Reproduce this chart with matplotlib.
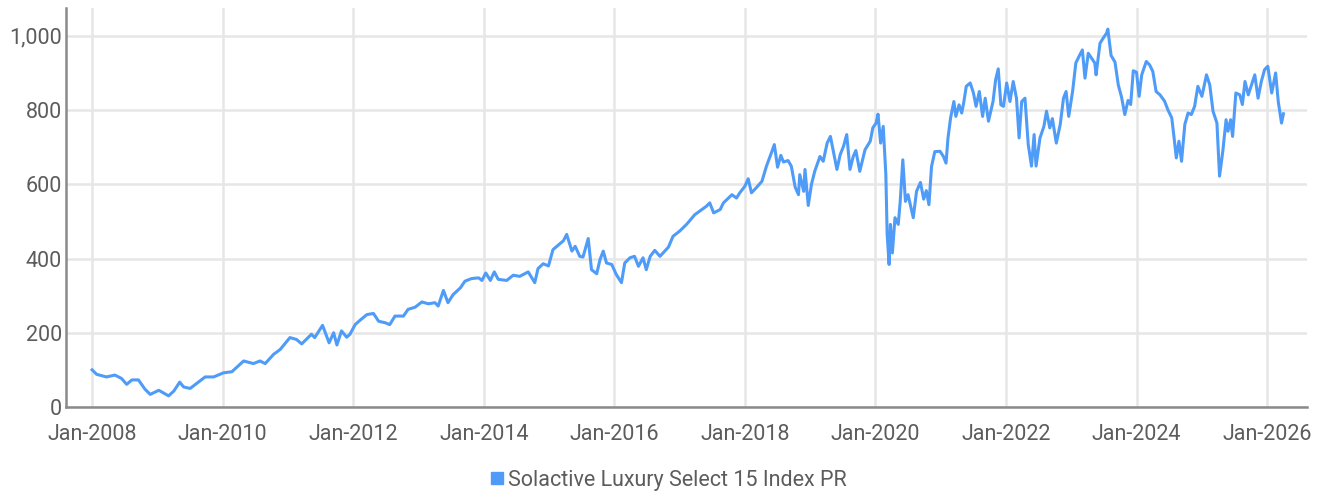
import matplotlib
matplotlib.use('Agg')
import matplotlib.pyplot as plt
import matplotlib.dates as mdates
from matplotlib.lines import Line2D
import pandas as pd

# index level (decimal year, value)
years = [2008.00, 2008.07, 2008.22, 2008.35, 2008.45, 2008.53, 2008.61, 2008.71, 2008.81, 2008.89,
         2009.02, 2009.17, 2009.25, 2009.34, 2009.40, 2009.50, 2009.65, 2009.73, 2009.86, 2010.01,
         2010.14, 2010.32, 2010.47, 2010.57, 2010.65, 2010.78, 2010.88, 2011.03, 2011.13, 2011.21,
         2011.36, 2011.41, 2011.53, 2011.63, 2011.70, 2011.75, 2011.82, 2011.90, 2011.95, 2012.03,
         2012.10, 2012.21, 2012.31, 2012.39, 2012.49, 2012.56, 2012.64, 2012.77, 2012.84, 2012.95,
         2013.05, 2013.15, 2013.25, 2013.30, 2013.38, 2013.45, 2013.53, 2013.64, 2013.71, 2013.81,
         2013.92, 2013.97, 2014.03, 2014.10, 2014.16, 2014.22, 2014.35, 2014.45, 2014.55, 2014.68,
         2014.78, 2014.83, 2014.91, 2014.99, 2015.06, 2015.14, 2015.22, 2015.27, 2015.35, 2015.40,
         2015.47, 2015.52, 2015.60, 2015.65, 2015.73, 2015.78, 2015.83, 2015.88, 2015.96, 2016.03,
         2016.11, 2016.16, 2016.24, 2016.31, 2016.37, 2016.44, 2016.49, 2016.55, 2016.62, 2016.70,
         2016.83, 2016.90, 2017.00, 2017.11, 2017.23, 2017.34, 2017.41, 2017.46, 2017.52, 2017.62,
         2017.67, 2017.80, 2017.87, 2017.92, 2018.00, 2018.05, 2018.10, 2018.18, 2018.26, 2018.33,
         2018.41, 2018.45, 2018.50, 2018.55, 2018.59, 2018.66, 2018.71, 2018.77, 2018.82, 2018.84,
         2018.90, 2018.92, 2018.97, 2019.02, 2019.07, 2019.15, 2019.20, 2019.26, 2019.31, 2019.36,
         2019.41, 2019.46, 2019.51, 2019.56, 2019.61, 2019.66, 2019.70, 2019.76, 2019.84, 2019.92,
         2019.96, 2020.01, 2020.04, 2020.08, 2020.12, 2020.16, 2020.18, 2020.21, 2020.23, 2020.26,
         2020.30, 2020.35, 2020.38, 2020.42, 2020.46, 2020.50, 2020.54, 2020.58, 2020.63, 2020.69,
         2020.74, 2020.78, 2020.82, 2020.86, 2020.91, 2020.99, 2021.04, 2021.08, 2021.11, 2021.15,
         2021.20, 2021.23, 2021.28, 2021.32, 2021.35, 2021.39, 2021.45, 2021.50, 2021.54, 2021.59,
         2021.64, 2021.68, 2021.73, 2021.80, 2021.84, 2021.88, 2021.92, 2021.96, 2022.01, 2022.06,
         2022.11, 2022.16, 2022.20, 2022.24, 2022.29, 2022.34, 2022.39, 2022.43, 2022.46, 2022.52,
         2022.58, 2022.62, 2022.67, 2022.71, 2022.77, 2022.83, 2022.88, 2022.92, 2022.96, 2023.02,
         2023.07, 2023.12, 2023.17, 2023.21, 2023.26, 2023.31, 2023.36, 2023.38, 2023.44, 2023.49,
         2023.54, 2023.56, 2023.61, 2023.67, 2023.72, 2023.77, 2023.82, 2023.87, 2023.91, 2023.95,
         2024.00, 2024.04, 2024.08, 2024.15, 2024.20, 2024.25, 2024.30, 2024.36, 2024.43, 2024.48,
         2024.54, 2024.57, 2024.61, 2024.65, 2024.69, 2024.74, 2024.79, 2024.84, 2024.89, 2024.94,
         2025.00, 2025.07, 2025.12, 2025.17, 2025.23, 2025.27, 2025.32, 2025.37, 2025.40, 2025.44,
         2025.47, 2025.52, 2025.58, 2025.62, 2025.66, 2025.71, 2025.76, 2025.81, 2025.86, 2025.91,
         2025.96, 2026.01, 2026.07, 2026.13, 2026.17, 2026.22, 2026.25]
values = [100, 88, 81, 86, 77, 61, 73, 73, 48, 34,
          45, 30, 43, 67, 54, 50, 70, 81, 81, 92,
          95, 124, 117, 124, 117, 142, 155, 187, 182, 170,
          196, 187, 220, 173, 200, 167, 205, 188, 196, 222,
          233, 249, 252, 231, 227, 222, 245, 245, 263, 269,
          283, 278, 281, 272, 314, 281, 303, 321, 339, 346,
          348, 341, 361, 341, 364, 344, 341, 355, 352, 364,
          335, 373, 386, 380, 424, 436, 448, 465, 420, 433,
          406, 404, 454, 370, 359, 397, 420, 388, 384, 357,
          335, 388, 402, 406, 379, 402, 370, 406, 422, 406,
          431, 460, 474, 493, 518, 532, 541, 550, 523, 532,
          550, 572, 563, 577, 595, 615, 577, 592, 608, 649,
          687, 707, 646, 678, 660, 664, 649, 592, 572, 626,
          581, 640, 543, 600, 635, 675, 662, 711, 729, 684,
          640, 680, 702, 734, 640, 675, 691, 635, 693, 716,
          752, 765, 789, 711, 756, 626, 465, 384, 492, 415,
          510, 492, 554, 666, 554, 572, 541, 510, 581, 605,
          560, 583, 545, 648, 688, 689, 675, 657, 725, 779,
          823, 783, 814, 792, 819, 864, 873, 846, 810, 850,
          783, 832, 770, 823, 882, 911, 814, 810, 873, 823,
          877, 832, 725, 823, 832, 707, 649, 734, 649, 725,
          756, 797, 752, 777, 711, 761, 832, 850, 783, 850,
          927, 945, 962, 886, 953, 940, 927, 895, 980, 994,
          1007, 1018, 947, 929, 868, 835, 788, 826, 815, 906,
          902, 837, 895, 931, 922, 904, 850, 841, 824, 801,
          779, 734, 671, 716, 662, 761, 792, 788, 810, 864,
          837, 895, 868, 797, 765, 622, 689, 774, 743, 774,
          729, 846, 841, 815, 877, 841, 868, 895, 832, 877,
          909, 918, 846, 900, 823, 765, 790]
series_name = 'Solactive Luxury Select 15 Index PR'
y_ticks = [0, 200, 400, 600, 800, 1000]

dates = [pd.Timestamp(int(y), 1, 1) + pd.Timedelta(days=(y - int(y)) * 365.25) for y in years]

plt.rcParams['font.family'] = ['Roboto', 'DejaVu Sans']
text_col = '#5c5c5c'
line_col = '#4f9cf8'
grid_col = '#e6e6e6'

fig = plt.figure(figsize=(13.24, 4.93), dpi=100)
ax = fig.add_axes([66/1324, 1 - 407/493, (1307-66)/1324, (407-8)/493])

ax.plot(dates, values, color=line_col, lw=2.2, solid_joinstyle='round', zorder=3)

ax.set_ylim(0, 1075)
ax.set_xlim(pd.Timestamp('2007-08-08'), pd.Timestamp('2026-08-12'))
ax.set_yticks(y_ticks)
ax.set_yticklabels([f'{v:,}' for v in y_ticks])
ax.xaxis.set_major_locator(mdates.YearLocator(2, month=1, day=1))
ax.xaxis.set_major_formatter(mdates.DateFormatter('%b-%Y'))

ax.grid(True, color=grid_col, lw=1.8, zorder=0)
ax.set_axisbelow(True)
for s in ['top', 'right']:
    ax.spines[s].set_visible(False)
for s in ['left', 'bottom']:
    ax.spines[s].set_color('#8a8a8a')
    ax.spines[s].set_linewidth(1.8)
ax.tick_params(length=0, labelsize=15.5, labelcolor=text_col)
ax.tick_params(axis='x', pad=12)
ax.tick_params(axis='y', pad=3)

handle = Line2D([], [], color=line_col, marker='s', markersize=9, lw=0)
fig.legend([handle], [series_name], loc='center', bbox_to_anchor=(0.505, 0.026),
           frameon=False, handlelength=0.6, handletextpad=0.2,
           prop={'size': 15.5}, labelcolor=text_col)

fig.savefig('out.png', dpi=100)
